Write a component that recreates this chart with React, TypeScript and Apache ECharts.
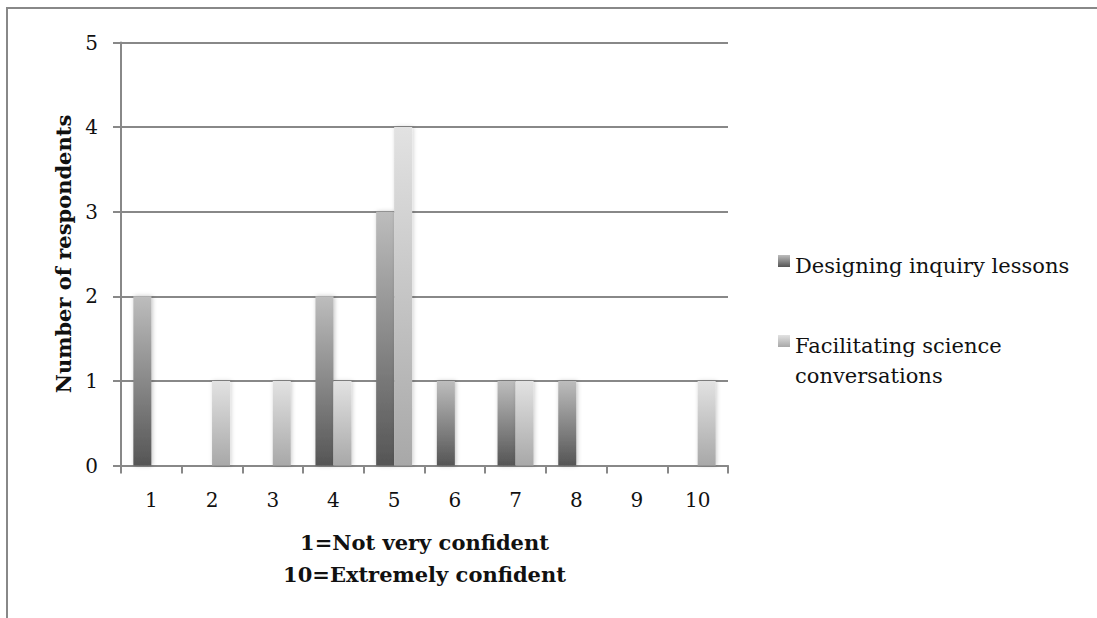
import React, { useEffect, useRef } from "react";
import * as echarts from "echarts";

const categories = ["1", "2", "3", "4", "5", "6", "7", "8", "9", "10"];
const designingInquiry = [2, 0, 0, 2, 3, 1, 1, 1, 0, 0];
const facilitatingScience = [0, 1, 1, 1, 4, 0, 1, 0, 0, 1];
const seriesNames = ["Designing inquiry lessons", "Facilitating science conversations"];
const yTicks = [0, 1, 2, 3, 4, 5];
const xAxisTitle = "1=Not very confident\n10=Extremely confident";
const yAxisTitle = "Number of respondents";

const FONT = "DejaVu Serif";
const INK = "#111111";
const RULE = "#888888";

const darkFill = () =>
  new echarts.graphic.LinearGradient(0, 0, 0, 1, [
    { offset: 0, color: "#bdbdbd" },
    { offset: 1, color: "#555555" },
  ]);
const lightFill = () =>
  new echarts.graphic.LinearGradient(0, 0, 0, 1, [
    { offset: 0, color: "#e2e2e2" },
    { offset: 1, color: "#a8a8a8" },
  ]);

export default function App() {
  const ref = useRef<HTMLDivElement>(null);

  useEffect(() => {
    if (!ref.current) return;
    const chart = echarts.init(ref.current, undefined, { renderer: "svg" });

    // empty categories get no bar at all
    const asBars = (vals: number[]) => vals.map((v) => (v === 0 ? null : v));

    chart.setOption({
      animation: false,
      backgroundColor: "#ffffff",
      grid: { left: 121, top: 42.5, width: 607, height: 423, containLabel: false },
      xAxis: {
        type: "category",
        data: categories,
        boundaryGap: true,
        axisLine: { lineStyle: { color: RULE, width: 2 } },
        axisTick: { show: true, length: 8, lineStyle: { color: RULE, width: 2 } },
        axisLabel: { color: INK, fontFamily: FONT, fontSize: 20, margin: 24 },
        splitLine: { show: false },
      },
      yAxis: {
        type: "value",
        min: yTicks[0],
        max: yTicks[yTicks.length - 1],
        interval: 1,
        axisLine: { show: true, lineStyle: { color: RULE, width: 2 } },
        axisTick: { show: true, inside: false, length: 8, lineStyle: { color: RULE, width: 2 } },
        axisLabel: { color: INK, fontFamily: FONT, fontSize: 20, margin: 23 },
        splitLine: { show: true, lineStyle: { color: RULE, width: 2 } },
        name: yAxisTitle,
        nameLocation: "middle",
        nameGap: 46,
        nameTextStyle: { color: INK, fontFamily: FONT, fontSize: 21, fontWeight: "bold" },
      },
      series: [
        {
          name: seriesNames[0],
          type: "bar",
          data: asBars(designingInquiry),
          barWidth: 18,
          barGap: "0%",
          itemStyle: {
            color: darkFill(),
            shadowColor: "rgba(0,0,0,0.25)",
            shadowBlur: 4,
            shadowOffsetX: 1,
          },
        },
        {
          name: seriesNames[1],
          type: "bar",
          data: asBars(facilitatingScience),
          barWidth: 18,
          barGap: "0%",
          itemStyle: {
            color: lightFill(),
            shadowColor: "rgba(0,0,0,0.2)",
            shadowBlur: 4,
            shadowOffsetX: 1,
          },
        },
      ],
      graphic: [
        {
          type: "polyline",
          shape: { points: [[7, 618], [7, 8], [1097, 8]] },
          style: { stroke: RULE, lineWidth: 2, fill: "none" },
          silent: true,
        },
        {
          type: "text",
          x: 424.5,
          y: 526,
          style: {
            text: xAxisTitle,
            fontFamily: FONT,
            fontSize: 21,
            fontWeight: "bold",
            fill: INK,
            align: "center",
            verticalAlign: "top",
            lineHeight: 32,
          },
        },
        {
          type: "rect",
          shape: { x: 778, y: 255, width: 12, height: 12 },
          style: { fill: darkFill() },
        },
        {
          type: "text",
          x: 795,
          y: 251,
          style: {
            text: seriesNames[0],
            fontFamily: FONT,
            fontSize: 21,
            fill: INK,
            verticalAlign: "top",
            lineHeight: 30,
          },
        },
        {
          type: "rect",
          shape: { x: 778, y: 335, width: 12, height: 12 },
          style: { fill: lightFill() },
        },
        {
          type: "text",
          x: 795,
          y: 331,
          style: {
            text: "Facilitating science\nconversations",
            fontFamily: FONT,
            fontSize: 21,
            fill: INK,
            verticalAlign: "top",
            lineHeight: 30,
          },
        },
      ],
    });

    return () => chart.dispose();
  }, []);

  return (
    <div
      ref={ref}
      style={{ position: "absolute", left: 0, top: 0, width: 1097, height: 618 }}
    />
  );
}
